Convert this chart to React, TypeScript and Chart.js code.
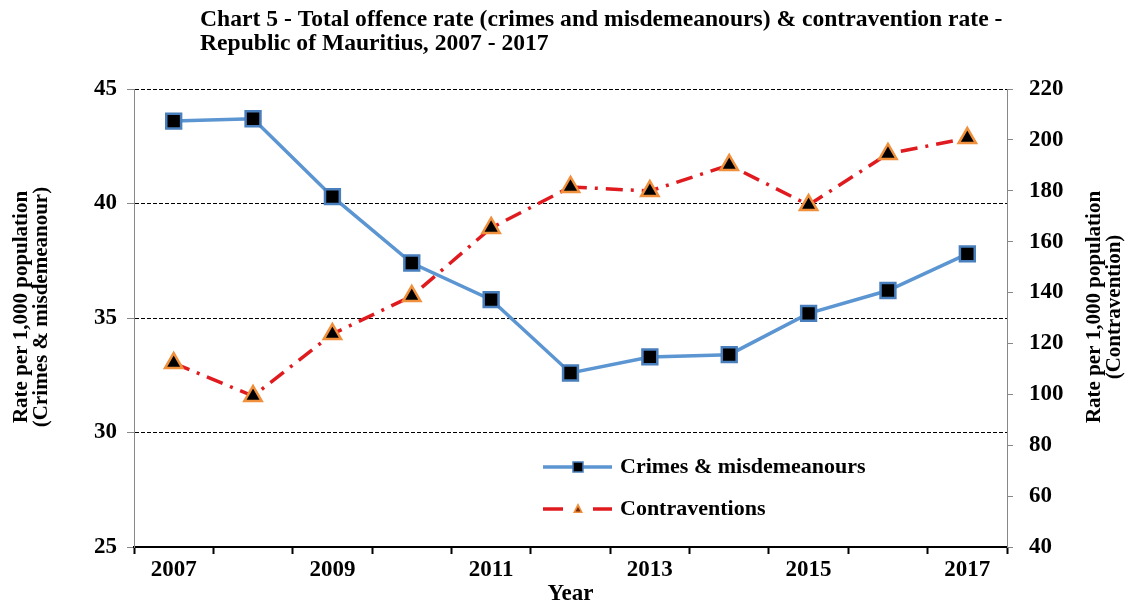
import React, { useEffect, useRef } from "react";
import { Chart, registerables } from "chart.js";

Chart.register(...registerables);

// ---- data ----
const years = ["2007", "2008", "2009", "2010", "2011", "2012", "2013", "2014", "2015", "2016", "2017"];
const crimesRate = [43.6, 43.7, 40.3, 37.4, 35.8, 32.6, 33.3, 33.4, 35.2, 36.2, 37.8];
const contraventionRate = [112.3, 99.3, 123.7, 138.6, 165.4, 181.5, 179.9, 190.1, 174.4, 194.5, 200.7];
const seriesNames = ["Crimes & misdemeanours", "Contraventions"];
const titleLines = [
  "Chart 5 - Total offence rate (crimes and misdemeanours) & contravention rate -",
  "Republic of Mauritius, 2007 - 2017",
];
const leftAxisTitle = ["Rate per 1,000 population", "(Crimes & misdemeanour)"];
const rightAxisTitle = ["Rate per 1,000 population", "(Contravention)"];
const xAxisTitle = "Year";
const leftAxisRange = { min: 25, max: 45, step: 5 };
const rightAxisRange = { min: 40, max: 220, step: 20 };

// ---- styles ----
const FONT = "'Liberation Serif', 'Times New Roman', serif";
const BLUE = "#5b95d2";
const BLUE_DARK = "#4a7fbd";
const RED = "#e01b1f";
const ORANGE = "#f0903c";

const decorPlugin = {
  id: "decor",
  afterDraw(chart: any) {
    const ctx = chart.ctx as CanvasRenderingContext2D;
    const area = chart.chartArea;
    ctx.save();
    ctx.fillStyle = "#000";
    // title
    ctx.font = `bold 23.6px ${FONT}`;
    ctx.textAlign = "left";
    ctx.textBaseline = "middle";
    titleLines.forEach((t, i) => ctx.fillText(t, 200, 20 + i * 24));

    // axis titles (both read bottom-to-top)
    const midY = (area.top + area.bottom) / 2 - 11;
    ctx.font = `bold 21px ${FONT}`;
    ctx.textAlign = "center";
    const drawRot = (lines: string[], x0: number) => {
      ctx.save();
      ctx.translate(x0, midY);
      ctx.rotate(-Math.PI / 2);
      lines.forEach((t, i) => ctx.fillText(t, 0, i * 20));
      ctx.restore();
    };
    drawRot(leftAxisTitle, 22);
    drawRot(rightAxisTitle, 1095);

    // legend
    const lx0 = 543, lx1 = 612, tx = 620;
    const y1 = 467, y2 = 509;
    ctx.lineCap = "butt";
    ctx.strokeStyle = BLUE;
    ctx.lineWidth = 3.5;
    ctx.beginPath();
    ctx.moveTo(lx0, y1);
    ctx.lineTo(lx1, y1);
    ctx.stroke();
    ctx.fillStyle = "#000";
    ctx.fillRect(573, y1 - 5, 10, 10);
    ctx.strokeStyle = BLUE_DARK;
    ctx.lineWidth = 1.5;
    ctx.strokeRect(573, y1 - 5, 10, 10);

    ctx.strokeStyle = RED;
    ctx.lineWidth = 3.5;
    ctx.beginPath();
    ctx.moveTo(lx0, y2);
    ctx.lineTo(lx0 + 20, y2);
    ctx.moveTo(lx1 - 19, y2);
    ctx.lineTo(lx1, y2);
    ctx.stroke();
    ctx.fillStyle = ORANGE;
    ctx.beginPath();
    ctx.moveTo(578, y2 - 6);
    ctx.lineTo(583, y2 + 4);
    ctx.lineTo(573, y2 + 4);
    ctx.closePath();
    ctx.fill();
    ctx.fillStyle = "#7a2a00";
    ctx.beginPath();
    ctx.moveTo(578, y2 - 2);
    ctx.lineTo(580.5, y2 + 2.5);
    ctx.lineTo(575.5, y2 + 2.5);
    ctx.closePath();
    ctx.fill();

    ctx.fillStyle = "#000";
    ctx.font = `bold 22px ${FONT}`;
    ctx.textAlign = "left";
    ctx.textBaseline = "middle";
    ctx.fillText(seriesNames[0], tx, y1);
    ctx.fillText(seriesNames[1], tx, y2);
    ctx.restore();
  },
};

export default function App() {
  const canvasRef = useRef<HTMLCanvasElement | null>(null);

  useEffect(() => {
    if (!canvasRef.current) return;
    const tickFont = { family: FONT, size: 23, weight: "bold" as const };
    const chart = new Chart(canvasRef.current, {
      type: "line",
      data: {
        labels: years,
        datasets: [
          {
            label: seriesNames[0],
            data: crimesRate,
            yAxisID: "y",
            borderColor: BLUE,
            borderWidth: 3.5,
            pointStyle: "rect",
            pointRadius: 10.5,
            pointBackgroundColor: "#000",
            pointBorderColor: BLUE_DARK,
            pointBorderWidth: 2.5,
            tension: 0,
          },
          {
            label: seriesNames[1],
            data: contraventionRate,
            yAxisID: "y1",
            borderColor: RED,
            borderWidth: 3.5,
            borderDash: [17, 8, 3, 8],
            pointStyle: "triangle",
            pointRadius: 10,
            pointBackgroundColor: "#000",
            pointBorderColor: ORANGE,
            pointBorderWidth: 2.5,
            tension: 0,
          },
        ],
      },
      options: {
        responsive: true,
        maintainAspectRatio: false,
        animation: false,
        layout: { padding: { top: 89, left: 0, right: 0, bottom: 0 } },
        plugins: {
          legend: { display: false },
          title: { display: false },
          tooltip: { enabled: false },
        },
        scales: {
          x: {
            type: "category",
            offset: true,
            grid: {
              offset: true,
              drawOnChartArea: false,
              drawTicks: true,
              tickLength: 7,
              tickWidth: 2,
              tickColor: "#000",
            },
            border: { display: true, color: "#000", width: 2 },
            ticks: {
              autoSkip: false,
              maxRotation: 0,
              padding: 2,
              color: "#000",
              font: tickFont,
              callback: (_v: any, i: number) => (i % 2 === 0 ? years[i] : ""),
            },
            title: {
              display: true,
              text: xAxisTitle,
              color: "#000",
              font: { family: FONT, size: 23, weight: "bold", lineHeight: 0.9 },
              padding: { top: 0, bottom: 0 },
            },
            afterFit: (s: any) => {
              s.height = 57;
            },
          },
          y: {
            position: "left",
            min: leftAxisRange.min,
            max: leftAxisRange.max,
            ticks: {
              stepSize: leftAxisRange.step,
              padding: 10,
              color: "#000",
              font: tickFont,
            },
            grid: {
              color: (c: any) => (c.tick && c.tick.value === leftAxisRange.min ? "rgba(0,0,0,0)" : "#000"),
              lineWidth: 1,
              tickLength: 7,
              tickColor: "#888",
              tickWidth: 1,
              tickBorderDash: [],
            },
            border: { display: true, color: "#888", width: 1, dash: [4, 2] },
            afterFit: (s: any) => {
              s.width = 134;
            },
          },
          y1: {
            position: "right",
            min: rightAxisRange.min,
            max: rightAxisRange.max,
            ticks: {
              stepSize: rightAxisRange.step,
              padding: 16,
              color: "#000",
              font: tickFont,
            },
            grid: {
              drawOnChartArea: false,
              tickLength: 6,
              tickColor: "#888",
              tickWidth: 1,
            },
            border: { display: true, color: "#888", width: 1 },
            afterFit: (s: any) => {
              s.width = 124;
            },
          },
        },
      },
      plugins: [decorPlugin],
    });
    return () => chart.destroy();
  }, []);

  return (
    <div
      style={{
        position: "fixed",
        left: 0,
        top: 0,
        width: 1131,
        height: 604,
        background: "#fff",
      }}
    >
      <canvas ref={canvasRef} />
    </div>
  );
}
